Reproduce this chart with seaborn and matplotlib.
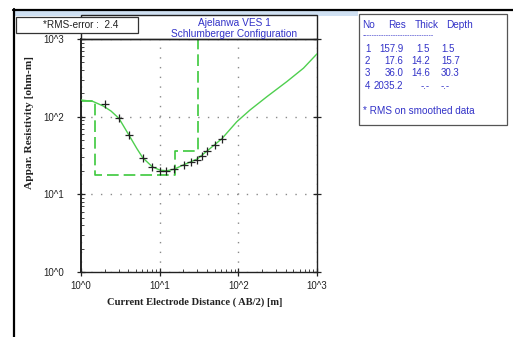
import numpy as np
import pandas as pd
import seaborn as sns
import matplotlib
matplotlib.use("Agg")
import matplotlib.pyplot as plt
from matplotlib.patches import Rectangle
from matplotlib.lines import Line2D
from matplotlib.ticker import LogLocator, NullFormatter

# ---------------- data ----------------
obs_ab2 = [2.02, 3.04, 4.04, 6.09, 8.07, 10.1, 12.1, 15.4, 20.3, 25.1, 30.2, 34.9, 40.4, 50.2, 61.7]
obs_rho = [146, 95, 58.6, 29.6, 22.6, 19.9, 19.9, 21.0, 23.6, 25.8, 27.6, 31.4, 36.4, 43.5, 52.0]

curve_ab2 = [1.0, 1.42, 1.92, 2.41, 3.04, 4.04, 5.11, 6.09, 8.07, 10.1, 12.3, 15.3, 20.2, 30.0,
             40.4, 61.7, 95.7, 141, 231, 414, 673, 1000]
curve_rho = [164, 157, 137, 118, 95, 58.6, 39.1, 29.6, 22.6, 20.5, 20.1, 21.1, 24.0, 28.5,
             36.4, 52, 86.2, 122, 181, 283, 421, 644]

layer_no = [1, 2, 3, 4]
layer_res = [157.9, 17.6, 36.0, 2035.2]
layer_thick = ["1.5", "14.2", "14.6", "-.-"]
layer_depth = [1.5, 15.7, 30.3]
layer_depth_txt = ["1.5", "15.7", "30.3", "-.-"]

x_tick_vals = [1, 10, 100, 1000]
x_tick_labels = ["10^0", "10^1", "10^2", "10^3"]
y_tick_vals = [1, 10, 100, 1000]
y_tick_labels = ["10^0", "10^1", "10^2", "10^3"]

title_lines = ["Ajelanwa VES 1", "Schlumberger Configuration"]
rms_text = "*RMS-error :  2.4"
x_label = "Current Electrode Distance ( AB/2) [m]"
y_label = "Appar. Resistivity [ohm-m]"

# build step model table from layer arrays
step_x, step_y = [1.0], [layer_res[0]]
for i, d in enumerate(layer_depth):
    step_x += [d, d]
    step_y += [layer_res[i], layer_res[i + 1]]
step_df = pd.DataFrame({"x": step_x, "y": step_y})
curve_df = pd.DataFrame({"x": curve_ab2, "y": curve_rho})
obs_df = pd.DataFrame({"x": obs_ab2, "y": obs_rho})

# ---------------- style ----------------
sns.set_style("ticks")
plt.rcParams["font.family"] = ["Liberation Sans", "DejaVu Sans"]

W, H = 513, 337
fig = plt.figure(figsize=(W / 100, H / 100), dpi=100)
fx = lambda px: px / W
fy = lambda py: 1 - py / H

ax = fig.add_axes([fx(81), fy(272), (317 - 81) / W, (272 - 39) / H])
ax.set_xscale("log")
ax.set_yscale("log")

green = "#4fcf4f"
sns.lineplot(data=curve_df, x="x", y="y", ax=ax, color=green, lw=1.0,
             sort=False, estimator=None, zorder=3)
sns.lineplot(data=step_df, x="x", y="y", ax=ax, color="#3cc83c", lw=1.2,
             sort=False, estimator=None, zorder=2)
ax.lines[-1].set_dashes((7, 3))
sns.scatterplot(data=obs_df, x="x", y="y", ax=ax, marker="+", s=30,
                color="#222222", linewidth=0.9, zorder=4)

ax.set_xlim(1, 1000)
ax.set_ylim(1, 1000)
ax.set_xticks(x_tick_vals)
ax.set_xticklabels(x_tick_labels)
ax.set_yticks(y_tick_vals)
ax.set_yticklabels(y_tick_labels)
ax.xaxis.set_minor_locator(LogLocator(base=10, subs=np.arange(2, 10), numticks=20))
ax.yaxis.set_minor_locator(LogLocator(base=10, subs=np.arange(2, 10), numticks=20))
ax.xaxis.set_minor_formatter(NullFormatter())
ax.yaxis.set_minor_formatter(NullFormatter())

ax.tick_params(axis="both", which="major", direction="inout", length=6, width=0.9,
               labelsize=7, colors="#222222")
ax.tick_params(axis="y", which="major", pad=9, right=True)
ax.tick_params(axis="x", which="major", pad=3.5)
ax.tick_params(axis="both", which="minor", direction="in", length=2.5, width=0.7, color="#444444")

ax.grid(which="major", linestyle=(0, (1, 6)), color="#8a8a8a", lw=1.0)
for s in ax.spines.values():
    s.set_color("#222222")
    s.set_linewidth(1.0)
ax.spines["left"].set_linewidth(1.4)

ax.set_xlabel("")
ax.set_ylabel("")
serif = ["Liberation Serif", "DejaVu Serif"]
fig.text(fx(194.5), fy(302), x_label, ha="center", va="center", fontsize=7.6,
         fontweight="bold", family=serif, color="#222222")
fig.text(fx(30), fy(122), y_label, ha="center", va="center", fontsize=8.2,
         fontweight="bold", family=serif, rotation=90, color="#222222")

# ---------------- frames and decorations ----------------
fig.add_artist(Line2D([fx(13.5), fx(13.5)], [fy(9), fy(337)], color="black", lw=1.6))
fig.add_artist(Line2D([fx(13), fx(513)], [fy(9.5), fy(9.5)], color="black", lw=1.6))
fig.add_artist(Rectangle((fx(14.5), fy(15.5)), (358 - 14.5) / W, 4.5 / H,
                         transform=fig.transFigure, facecolor="#cfe0f2", edgecolor="none"))
fig.add_artist(Rectangle((fx(81), fy(39)), (317 - 81) / W, (39 - 15) / H,
                         transform=fig.transFigure, facecolor="none",
                         edgecolor="#222222", lw=1.0))

blue = "#3232c8"
fig.text(fx(234.5), fy(23), title_lines[0], ha="center", va="center", fontsize=7.3, color=blue)
fig.text(fx(234.5), fy(34.2), title_lines[1], ha="center", va="center", fontsize=7.3, color=blue)

fig.add_artist(Rectangle((fx(16), fy(33)), (138 - 16) / W, (33 - 17) / H,
                         transform=fig.transFigure, facecolor="white",
                         edgecolor="#333333", lw=0.9, zorder=5))
fig.text(fx(43), fy(25.5), rms_text, ha="left", va="center", fontsize=7.2,
         color="#222222", zorder=6)

# layer table box
fig.add_artist(Rectangle((fx(359), fy(125)), (507 - 359) / W, (125 - 14) / H,
                         transform=fig.transFigure, facecolor="white",
                         edgecolor="#555555", lw=0.9))
fs = 7.0
fig.text(fx(362.5), fy(24.7), "No", ha="left", va="center", fontsize=7.2, color=blue)
fig.text(fx(388.5), fy(24.7), "Res", ha="left", va="center", fontsize=7.2, color=blue)
fig.text(fx(415), fy(24.7), "Thick", ha="left", va="center", fontsize=7.2, color=blue)
fig.text(fx(446), fy(24.7), "Depth", ha="left", va="center", fontsize=7.2, color=blue)
fig.text(fx(362.5), fy(35.5), "-" * 30, ha="left", va="center", fontsize=5, color=blue)
row_y = [49.5, 61.5, 73.3, 85.5]
for i in range(len(layer_no)):
    y = fy(row_y[i])
    fig.text(fx(365), y, str(layer_no[i]), ha="left", va="center", fontsize=fs, color=blue)
    fig.text(fx(403.5), y, f"{layer_res[i]:.1f}", ha="right", va="center", fontsize=fs, color=blue)
    fig.text(fx(430), y, layer_thick[i], ha="right", va="center", fontsize=fs, color=blue)
    fig.text(fx(441), y, layer_depth_txt[i], ha="left", va="center", fontsize=fs, color=blue)
fig.text(fx(363), fy(110.7), "* RMS on smoothed data", ha="left", va="center",
         fontsize=7.2, color=blue)

fig.savefig("out.png", dpi=100)
